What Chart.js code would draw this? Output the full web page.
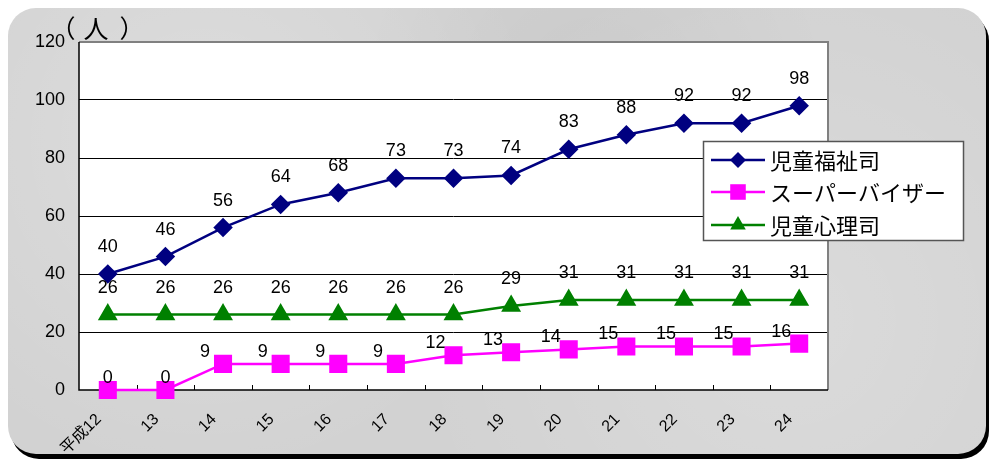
<!DOCTYPE html>
<html>
<head>
<meta charset="utf-8">
<script src="https://cdn.jsdelivr.net/npm/chart.js@4.4.0/dist/chart.umd.min.js"></script>
<style>
  html, body { margin: 0; padding: 0; background: #fff; }
  #wrap { position: relative; width: 990px; height: 462px; overflow: hidden; }
  #panel {
    position: absolute; left: 8px; top: 8px; width: 978px; height: 446px;
    border-radius: 28px; background: #d2d2d2;
    background-image:
      radial-gradient(circle at 20% 30%, rgba(255,255,255,0.25), rgba(255,255,255,0) 40%),
      radial-gradient(circle at 80% 70%, rgba(255,255,255,0.2), rgba(255,255,255,0) 45%),
      radial-gradient(circle at 60% 20%, rgba(0,0,0,0.04), rgba(0,0,0,0) 35%);
    box-shadow: 3px 5px 0 #000;
  }
  #c { position: absolute; left: 0; top: 0; }
</style>
</head>
<body>
<div id="wrap">
  <div id="panel"></div>
  <canvas id="c" width="990" height="462"></canvas>
</div>
<script>
// Category labels (fiscal years)
const years = ['平成12', '13', '14', '15', '16', '17', '18', '19', '20', '21', '22', '23', '24'];

// Series values
const welfare = [40, 46, 56, 64, 68, 73, 73, 74, 83, 88, 92, 92, 98];
const supervisor = [0, 0, 9, 9, 9, 9, 12, 13, 14, 15, 15, 15, 16];
const psych = [26, 26, 26, 26, 26, 26, 26, 29, 31, 31, 31, 31, 31];

const FONT = "'Liberation Sans', 'Noto Sans CJK JP', sans-serif";
const JP = "'Noto Sans CJK JP', 'Liberation Sans', sans-serif";

// Plot background, frame and inner tick marks
const framePlugin = {
    id: 'frame',
    beforeDraw(chart) {
        const { ctx, chartArea: a } = chart;
        ctx.save();
        ctx.fillStyle = '#fff';
        ctx.fillRect(a.left, a.top, a.right - a.left, a.bottom - a.top);
        // unit label
        ctx.fillStyle = '#000';
        ctx.font = '25px ' + JP;
        ctx.textAlign = 'center';
        ctx.textBaseline = 'middle';
        ctx.fillText('（', 63, 28);
        ctx.fillText('人', 96, 28);
        ctx.fillText('）', 132, 28);
        ctx.restore();
    },
    beforeDatasetsDraw(chart) {
        const { ctx, chartArea: a, scales } = chart;
        ctx.save();
        ctx.strokeStyle = '#808080';
        ctx.lineWidth = 2;
        ctx.beginPath();
        ctx.moveTo(a.left, a.top);
        ctx.lineTo(a.right, a.top);
        ctx.lineTo(a.right, a.bottom);
        ctx.stroke();
        ctx.strokeStyle = '#000';
        ctx.lineWidth = 1.5;
        ctx.beginPath();
        ctx.moveTo(a.left, a.top);
        ctx.lineTo(a.left, a.bottom);
        ctx.lineTo(a.right, a.bottom);
        ctx.stroke();
        // small tick marks between categories
        const x = scales.x;
        ctx.lineWidth = 1;
        ctx.beginPath();
        for (let i = 1; i < years.length; i++) {
            const px = Math.round((x.getPixelForValue(i - 1) + x.getPixelForValue(i)) / 2) + 0.5;
            ctx.moveTo(px, a.bottom);
            ctx.lineTo(px, a.bottom - 5);
        }
        ctx.stroke();
        ctx.restore();
    }
};

// Value labels above the points
const valueLabels = {
    id: 'valueLabels',
    afterDatasetsDraw(chart) {
        const { ctx } = chart;
        ctx.save();
        ctx.fillStyle = '#000';
        ctx.font = '18px ' + FONT;
        ctx.textAlign = 'center';
        ctx.textBaseline = 'middle';
        chart.data.datasets.forEach((ds, di) => {
            chart.getDatasetMeta(di).data.forEach((pt, i) => {
                let dx = 0, dy = -27;
                if (di === 1) {
                    dy = -12;
                    if (ds.data[i] > 0) dx = -18;
                }
                ctx.fillText(String(ds.data[i]), pt.x + dx, pt.y + dy);
            });
        });
        ctx.restore();
    }
};

// Legend box drawn by hand
const legendBox = {
    id: 'legendBox',
    afterDraw(chart) {
        const { ctx } = chart;
        const bx = 703, by = 141, bw = 260, bh = 99;
        ctx.save();
        ctx.fillStyle = '#fff';
        ctx.fillRect(bx, by, bw, bh);
        ctx.strokeStyle = '#555';
        ctx.lineWidth = 1.5;
        ctx.strokeRect(bx + 0.5, by + 0.5, bw, bh);
        const rows = [160, 192, 225];
        chart.data.datasets.forEach((ds, i) => {
            const y = rows[i];
            ctx.strokeStyle = ds.borderColor;
            ctx.lineWidth = 2.5;
            ctx.beginPath();
            ctx.moveTo(711, y);
            ctx.lineTo(765, y);
            ctx.stroke();
            ctx.fillStyle = ds.pointBackgroundColor;
            Chart.helpers.drawPoint(ctx, {
                pointStyle: ds.pointStyle,
                radius: ds.pointRadius,
                rotation: 0,
                borderWidth: 0
            }, 738, y);
            ctx.fillStyle = '#000';
            ctx.font = '22px ' + JP;
            ctx.textAlign = 'left';
            ctx.textBaseline = 'middle';
            ctx.fillText(ds.label, 770, y + 1);
        });
        ctx.restore();
    }
};

new Chart(document.getElementById('c'), {
    type: 'line',
    data: {
        labels: years,
        datasets: [
            {
                label: '児童福祉司',
                data: welfare,
                borderColor: '#000080',
                backgroundColor: '#000080',
                pointBackgroundColor: '#000080',
                pointBorderColor: '#000080',
                pointStyle: 'rectRot',
                pointRadius: 8,
                borderWidth: 2.5,
                clip: false
            },
            {
                label: 'スーパーバイザー',
                data: supervisor,
                borderColor: '#ff00ff',
                backgroundColor: '#ff00ff',
                pointBackgroundColor: '#ff00ff',
                pointBorderColor: '#ff00ff',
                pointStyle: 'rect',
                pointRadius: 11,
                borderWidth: 2.5,
                clip: false
            },
            {
                label: '児童心理司',
                data: psych,
                borderColor: '#008000',
                backgroundColor: '#008000',
                pointBackgroundColor: '#008000',
                pointBorderColor: '#008000',
                pointStyle: 'triangle',
                pointRadius: 9,
                borderWidth: 2.5,
                clip: false
            }
        ]
    },
    options: {
        responsive: false,
        animation: false,
        layout: { padding: { left: 0, top: 42, right: 162, bottom: 0 } },
        plugins: {
            legend: { display: false },
            tooltip: { enabled: false }
        },
        elements: { line: { tension: 0 }, point: { borderWidth: 0 } },
        scales: {
            x: {
                offset: true,
                grid: { display: false },
                border: { display: false },
                ticks: {
                    color: '#000',
                    font: { size: 16, family: FONT },
                    minRotation: 45,
                    maxRotation: 45,
                    padding: 12,
                    labelOffset: -9
                },
                afterFit(scale) { scale.height = 72; }
            },
            y: {
                min: 0,
                max: 120,
                border: { display: false },
                grid: {
                    color: (c) => (c.tick.value === 0 || c.tick.value === 120) ? 'rgba(0,0,0,0)' : '#000',
                    lineWidth: 1,
                    drawTicks: false
                },
                ticks: {
                    stepSize: 20,
                    color: '#000',
                    font: { size: 18, family: FONT },
                    padding: 14
                },
                afterFit(scale) { scale.width = 79; }
            }
        }
    },
    plugins: [framePlugin, valueLabels, legendBox]
});
</script>
</body>
</html>
